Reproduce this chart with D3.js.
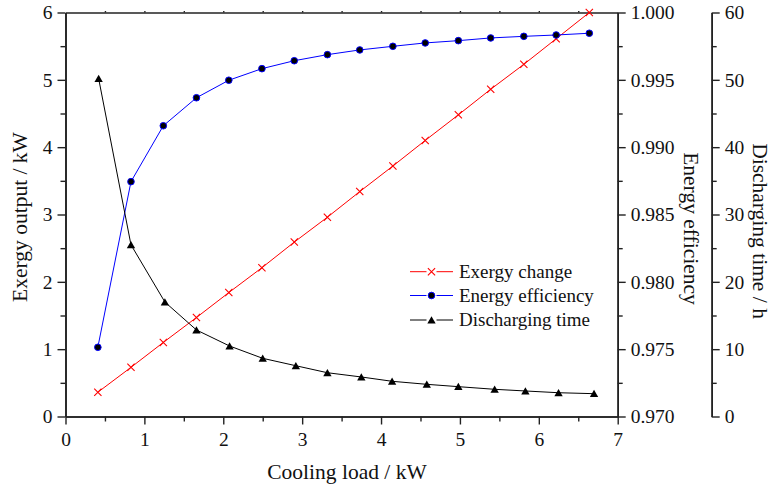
<!DOCTYPE html>
<html><head><meta charset="utf-8">
<script src="https://cdn.jsdelivr.net/npm/d3@7"></script>
<style>body{margin:0;background:#fff}svg{display:block}</style>
</head><body><svg id="c" width="772" height="492"></svg>
<script>
// ---- data ----
const coolingLoad = [0.41, 0.83, 1.24, 1.66, 2.07, 2.49, 2.90, 3.32, 3.73, 4.15, 4.56, 4.98, 5.39, 5.81, 6.22, 6.64];
const exergyChange = [0.36, 0.73, 1.10, 1.47, 1.84, 2.21, 2.59, 2.96, 3.34, 3.72, 4.10, 4.48, 4.86, 5.23, 5.61, 6.00];
const energyEfficiency = [0.97514, 0.98744, 0.99159, 0.99367, 0.99497, 0.99583, 0.99642, 0.99687, 0.99722, 0.99749, 0.99774, 0.99791, 0.99811, 0.99823, 0.99833, 0.99846];
const dischargeLoad = [0.42, 0.83, 1.26, 1.66, 2.08, 2.50, 2.92, 3.32, 3.75, 4.14, 4.58, 4.98, 5.44, 5.83, 6.25, 6.70];
const dischargingTime = [50.2, 25.5, 17.0, 12.85, 10.47, 8.64, 7.54, 6.50, 5.87, 5.23, 4.78, 4.43, 4.04, 3.79, 3.53, 3.39];
const xTicks = [0, 1, 2, 3, 4, 5, 6, 7];
const leftTicks = [0, 1, 2, 3, 4, 5, 6];
const effTicks = [0.970, 0.975, 0.980, 0.985, 0.990, 0.995, 1.000];
const timeTicks = [0, 10, 20, 30, 40, 50, 60];
const seriesNames = ["Exergy change", "Energy efficiency", "Discharging time"];
const titles = {x: "Cooling load / kW", left: "Exergy output / kW", eff: "Energy efficiency", time: "Discharging time / h"};

// ---- layout ----
const P = {l: 65.5, r: 617.7, t: 12.5, b: 416.5, axis3: 711.7};
const FONT = "'Liberation Serif','Times New Roman',serif";
const AX = "#222";
const svg = d3.select("#c");

const x = d3.scaleLinear().domain([0, 7]).range([P.l, P.r]);
const yL = d3.scaleLinear().domain([0, 6]).range([P.b, P.t]);
const yE = d3.scaleLinear().domain([0.970, 1.000]).range([P.b, P.t]);
const yT = d3.scaleLinear().domain([0, 60]).range([P.b, P.t]);

function mids(t){ const o=[]; for(let i=0;i<t.length-1;i++) o.push((t[i]+t[i+1])/2); return o; }

function styleAxis(g, fs){
  g.selectAll("path.domain").attr("stroke", AX).attr("stroke-width", 1.6);
  g.selectAll(".tick line").attr("stroke", AX).attr("stroke-width", 1.4);
  g.selectAll(".tick text").attr("fill", "#111").style("font-family", FONT).style("font-size", fs + "px");
}
function drawAxis(axis, transform, fs){
  const g = svg.append("g").attr("transform", transform).call(axis);
  styleAxis(g, fs);
  return g;
}

// top border with tiny ticks
drawAxis(d3.axisTop(x).tickValues(mids(xTicks).concat(xTicks.slice(1,-1))).tickSize(1.5).tickSizeOuter(0).tickFormat(""), `translate(0,${P.t})`, 19.5);

// bottom axis
drawAxis(d3.axisBottom(x).tickValues(mids(xTicks)).tickSize(5).tickSizeOuter(0).tickFormat(""), `translate(0,${P.b})`, 19.5);
drawAxis(d3.axisBottom(x).tickValues(xTicks).tickSize(8).tickSizeOuter(0).tickPadding(8).tickFormat(d3.format("d")), `translate(0,${P.b})`, 19.5);

// left axis
drawAxis(d3.axisLeft(yL).tickValues(mids(leftTicks)).tickSize(5).tickSizeOuter(0).tickFormat(""), `translate(${P.l},0)`, 19.5);
drawAxis(d3.axisLeft(yL).tickValues(leftTicks).tickSize(8).tickSizeOuter(0).tickPadding(5).tickFormat(d3.format("d")), `translate(${P.l},0)`, 19.5);

// right axis (efficiency)
drawAxis(d3.axisRight(yE).tickValues(mids(effTicks)).tickSize(5).tickSizeOuter(0).tickFormat(""), `translate(${P.r},0)`, 19.5);
drawAxis(d3.axisRight(yE).tickValues(effTicks).tickSize(8).tickSizeOuter(0).tickPadding(5).tickFormat(d3.format(".3f")), `translate(${P.r},0)`, 19.5);

// third axis (time)
drawAxis(d3.axisRight(yT).tickValues(mids(timeTicks)).tickSize(5).tickSizeOuter(0).tickFormat(""), `translate(${P.axis3},0)`, 19.5);
drawAxis(d3.axisRight(yT).tickValues(timeTicks).tickSize(8).tickSizeOuter(0).tickPadding(5).tickFormat(d3.format("d")), `translate(${P.axis3},0)`, 19.5);

// titles
const tfs = 21.5;
svg.append("text").attr("x", 347).attr("y", 479).attr("text-anchor", "middle")
  .style("font-family", FONT).style("font-size", tfs + "px").attr("fill", "#111").text(titles.x);
svg.append("text").attr("transform", "translate(27,217) rotate(-90)").attr("text-anchor", "middle")
  .style("font-family", FONT).style("font-size", tfs + "px").attr("fill", "#111").text(titles.left);
svg.append("text").attr("transform", "translate(683.5,228.5) rotate(90)").attr("text-anchor", "middle")
  .style("font-family", FONT).style("font-size", tfs + "px").attr("fill", "#111").text(titles.eff);
svg.append("text").attr("transform", "translate(752.5,231) rotate(90)").attr("text-anchor", "middle")
  .style("font-family", FONT).style("font-size", tfs + "px").attr("fill", "#111").text(titles.time);

// series
const red = "#ff0000", blue = "#0000ff", black = "#000000";
const crossSym = d3.symbol().type(d3.symbolX).size(36);
const triSym = d3.symbol().type(d3.symbolTriangle).size(30);

function marker(g, type, color){
  if (type === "x") g.append("path").attr("d", crossSym()).attr("fill", "none").attr("stroke", color).attr("stroke-width", 1.1);
  else if (type === "o") g.append("circle").attr("r", 3.3).attr("fill", "#000").attr("stroke", color).attr("stroke-width", 1);
  else g.append("path").attr("d", triSym()).attr("fill", color);
}

const series = [
  {xs: coolingLoad, ys: exergyChange, sc: yL, color: red, m: "x"},
  {xs: coolingLoad, ys: energyEfficiency, sc: yE, color: blue, m: "o"},
  {xs: dischargeLoad, ys: dischargingTime, sc: yT, color: black, m: "t"}
];
series.forEach(s => {
  const pts = s.xs.map((v, i) => [x(v), s.sc(s.ys[i])]);
  svg.append("path").attr("d", d3.line()(pts)).attr("fill", "none").attr("stroke", s.color).attr("stroke-width", 1);
  pts.forEach(p => {
    const g = svg.append("g").attr("transform", `translate(${p[0]},${p[1] + (s.m === "t" ? 1 : 0)})`);
    marker(g, s.m, s.color);
  });
});

// legend
const lg = svg.append("g");
const rowY = [271.7, 295.5, 320];
series.forEach((s, i) => {
  const y = rowY[i];
  lg.append("line").attr("x1", 410).attr("x2", 453).attr("y1", y).attr("y2", y).attr("stroke", s.color).attr("stroke-width", 1);
  const g = lg.append("g").attr("transform", `translate(431.5,${y + (s.m === "t" ? 1 : 0)})`);
  g.append("rect").attr("x",-5).attr("y",-5).attr("width",10).attr("height",10).attr("fill","#fff");
  marker(g, s.m, s.color);
  lg.append("text").attr("x", 459).attr("y", y).attr("dy", "0.33em")
    .style("font-family", FONT).style("font-size", "19px").attr("fill", "#111").text(seriesNames[i]);
});
</script></body></html>
